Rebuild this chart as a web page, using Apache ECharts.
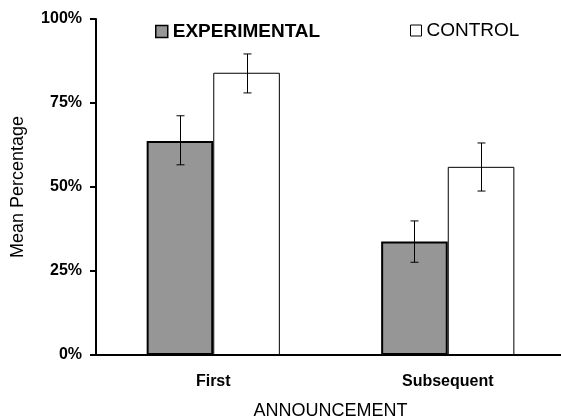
<!DOCTYPE html>
<html>
<head>
<meta charset="utf-8">
<script src="https://cdn.jsdelivr.net/npm/echarts@6/dist/echarts.min.js"></script>
<style>
html,body{margin:0;padding:0;background:#fff;}
#chart{width:561px;height:418px;}
</style>
</head>
<body>
<div id="chart"></div>
<script>
var categories = ['First', 'Subsequent'];
var seriesNames = ['EXPERIMENTAL', 'CONTROL'];
var experimental = [63.7, 33.8];
var control = [84.0, 56.0];
var experimentalLow = [56.6, 27.6];
var experimentalHigh = [71.2, 39.9];
var controlLow = [78.0, 48.8];
var controlHigh = [89.6, 63.1];
var yTicks = [0, 25, 50, 75, 100];

var FONT = '"Liberation Sans", Arial, sans-serif';
var BAR_FRAC = 0.284;

function errData(lo, hi) {
  return categories.map(function (c, i) { return [i, lo[i], hi[i]]; });
}
function errSeries(lo, hi, sign) {
  return {
    type: 'custom',
    z: 5,
    silent: true,
    encode: { x: 0, y: [1, 2] },
    data: errData(lo, hi),
    renderItem: function (params, api) {
      var idx = api.value(0);
      var pLo = api.coord([idx, api.value(1)]);
      var pHi = api.coord([idx, api.value(2)]);
      var band = api.size([1, 0])[0];
      var x = Math.round(pLo[0] + sign * band * BAR_FRAC / 2) + 0.5;
      var cap = 4;
      var st = { stroke: '#000', lineWidth: 1 };
      return {
        type: 'group',
        children: [
          { type: 'line', shape: { x1: x, y1: pLo[1], x2: x, y2: pHi[1] }, style: st },
          { type: 'line', shape: { x1: x - cap, y1: pLo[1], x2: x + cap, y2: pLo[1] }, style: st },
          { type: 'line', shape: { x1: x - cap, y1: pHi[1], x2: x + cap, y2: pHi[1] }, style: st }
        ]
      };
    }
  };
}

var chart = echarts.init(document.getElementById('chart'));
chart.setOption({
  animation: false,
  backgroundColor: '#fff',
  textStyle: { fontFamily: FONT },
  legend: [
    {
      data: [seriesNames[0]],
      left: 155, top: 22, padding: 0,
      icon: 'rect', itemWidth: 12, itemHeight: 12,
      itemStyle: { borderColor: '#000', borderWidth: 1.5 },
      textStyle: { fontFamily: FONT, fontSize: 19, fontWeight: 'bold', color: '#000' },
      selectedMode: false
    },
    {
      data: [seriesNames[1]],
      left: 410, top: 21, padding: 0,
      icon: 'rect', itemWidth: 11, itemHeight: 11,
      itemStyle: { borderColor: '#000', borderWidth: 1 },
      textStyle: { fontFamily: FONT, fontSize: 19, color: '#000' },
      selectedMode: false
    }
  ],
  grid: { left: 96, right: -4, top: 19, bottom: 63, containLabel: false, outerBoundsMode: 'none' },
  xAxis: {
    type: 'category',
    data: categories,
    name: 'ANNOUNCEMENT',
    nameLocation: 'middle',
    nameGap: 47,
    nameTextStyle: { fontFamily: FONT, fontSize: 18, color: '#000' },
    axisLine: { lineStyle: { color: '#000', width: 2 } },
    axisTick: { show: false },
    axisLabel: { fontFamily: FONT, fontSize: 16, fontWeight: 'bold', color: '#000', margin: 19 }
  },
  yAxis: {
    type: 'value',
    min: yTicks[0], max: yTicks[yTicks.length - 1], interval: yTicks[1] - yTicks[0],
    name: 'Mean Percentage',
    nameLocation: 'middle',
    nameGap: 69,
    nameTextStyle: { fontFamily: FONT, fontSize: 18, color: '#000' },
    axisLine: { show: true, lineStyle: { color: '#000', width: 2 } },
    axisTick: { show: true, length: 6, lineStyle: { color: '#000', width: 2 } },
    splitLine: { show: false },
    axisLabel: { fontFamily: FONT, fontSize: 16, fontWeight: 'bold', color: '#000', margin: 14, formatter: '{value}%' }
  },
  series: [
    {
      name: seriesNames[0], type: 'bar', data: experimental,
      barWidth: (BAR_FRAC * 100) + '%', barGap: '0%',
      itemStyle: { color: '#969696', borderColor: '#000', borderWidth: 2 }
    },
    {
      name: seriesNames[1], type: 'bar', data: control,
      barWidth: (BAR_FRAC * 100) + '%', barGap: '0%',
      itemStyle: { color: '#fff', borderColor: '#000', borderWidth: 1 }
    },
    errSeries(experimentalLow, experimentalHigh, -1),
    errSeries(controlLow, controlHigh, 1)
  ]
});
</script>
</body>
</html>
